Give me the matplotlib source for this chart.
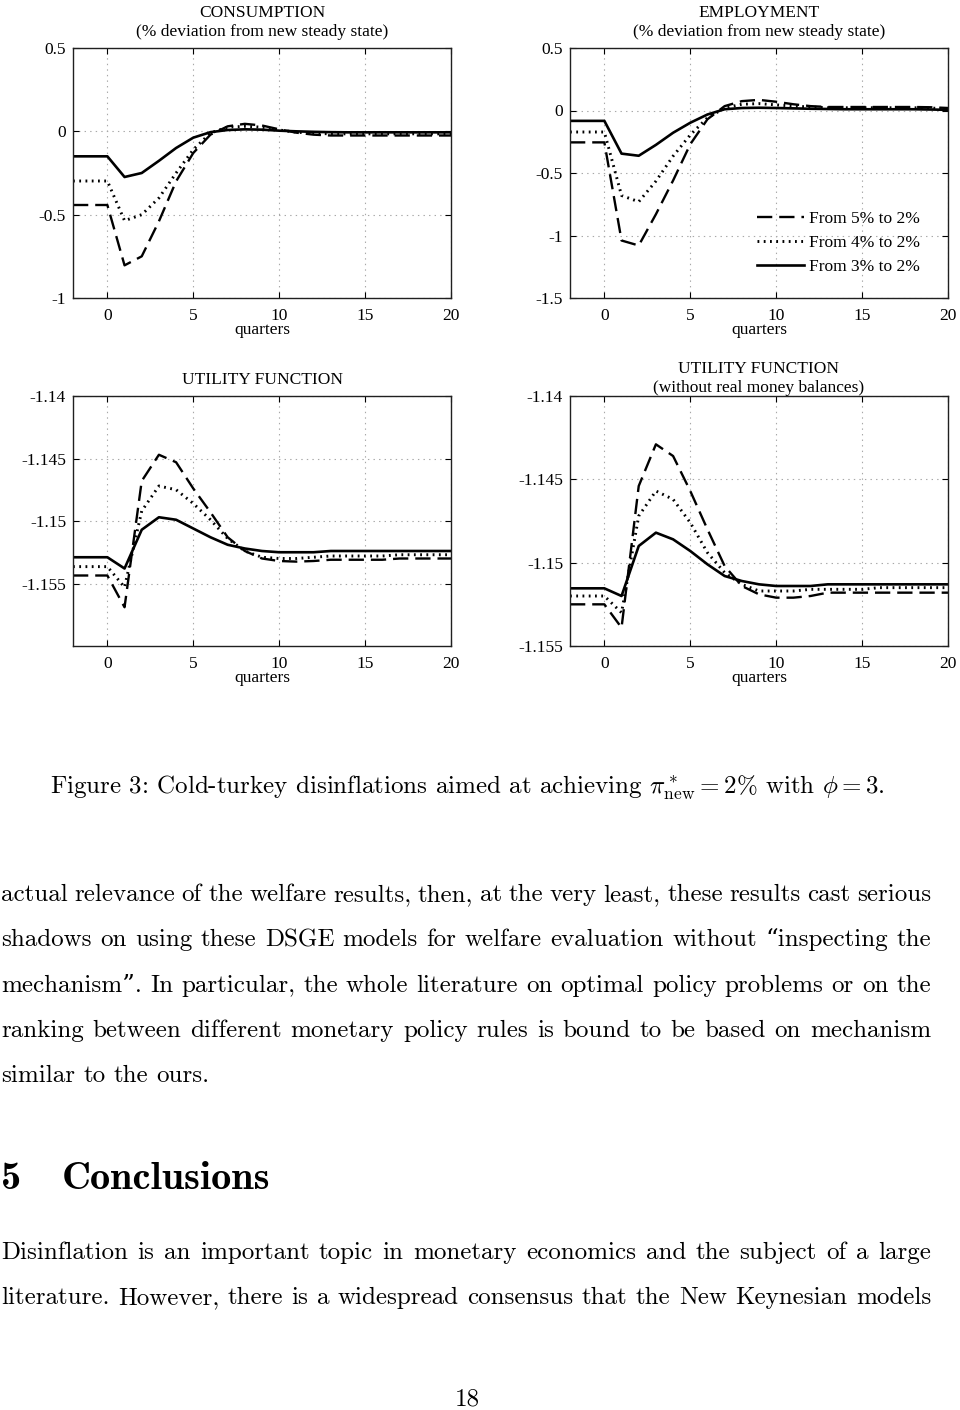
import matplotlib
matplotlib.use("Agg")
import matplotlib.pyplot as plt

# quarters
quarters = list(range(-2, 21))

# series labels
labels = ["From 5% to 2%", "From 4% to 2%", "From 3% to 2%"]

# consumption (% deviation)
cons_5 = [-0.442, -0.442, -0.442, -0.804, -0.750, -0.540, -0.300, -0.130, -0.020, 0.030, 0.045, 0.035,
          0.012, -0.008, -0.020, -0.025, -0.025, -0.025, -0.025, -0.025, -0.025, -0.025, -0.025]
cons_4 = [-0.298, -0.298, -0.298, -0.536, -0.500, -0.400, -0.250, -0.110, -0.010, 0.025, 0.030, 0.025,
          0.008, -0.005, -0.012, -0.015, -0.015, -0.015, -0.015, -0.015, -0.015, -0.015, -0.015]
cons_3 = [-0.150, -0.150, -0.150, -0.274, -0.250, -0.177, -0.100, -0.038, -0.005, 0.008, 0.012, 0.010,
          0.004, 0.000, -0.003, -0.005, -0.006, -0.006, -0.006, -0.006, -0.006, -0.006, -0.006]

# employment (% deviation)
empl_5 = [-0.255, -0.255, -0.255, -1.040, -1.080, -0.830, -0.560, -0.270, -0.070, 0.035, 0.075, 0.085,
          0.070, 0.050, 0.035, 0.028, 0.028, 0.028, 0.028, 0.028, 0.028, 0.026, 0.020]
empl_4 = [-0.172, -0.172, -0.172, -0.680, -0.730, -0.565, -0.365, -0.195, -0.058, 0.020, 0.050, 0.055,
          0.045, 0.035, 0.028, 0.022, 0.022, 0.022, 0.022, 0.022, 0.022, 0.020, 0.012]
empl_3 = [-0.083, -0.083, -0.083, -0.345, -0.362, -0.275, -0.178, -0.098, -0.032, 0.010, 0.020, 0.022,
          0.020, 0.017, 0.014, 0.012, 0.010, 0.010, 0.010, 0.010, 0.010, 0.008, 0.005]

# utility function
util_5 = [-1.15436, -1.15436, -1.15436, -1.1569, -1.1468, -1.1447, -1.1453, -1.1474, -1.1493, -1.1513,
          -1.1524, -1.1530, -1.1532, -1.15325, -1.1532, -1.1531, -1.1531, -1.1531, -1.1531, -1.1530,
          -1.1530, -1.1530, -1.1530]
util_4 = [-1.15365, -1.15365, -1.15365, -1.1553, -1.1492, -1.1472, -1.1475, -1.1486, -1.1499, -1.1514,
          -1.1524, -1.1529, -1.1530, -1.1530, -1.1529, -1.1528, -1.1528, -1.1528, -1.1528, -1.1527,
          -1.1527, -1.1527, -1.1527]
util_3 = [-1.1529, -1.1529, -1.1529, -1.1538, -1.1507, -1.1497, -1.1499, -1.1506, -1.1513, -1.1519,
          -1.1522, -1.1524, -1.1525, -1.1525, -1.1525, -1.1524, -1.1524, -1.1524, -1.1524, -1.1524,
          -1.1524, -1.1524, -1.1524]

# utility function without real money balances
unom_5 = [-1.1525, -1.1525, -1.1525, -1.1539, -1.1454, -1.1429, -1.1436, -1.1457, -1.1480, -1.1502,
          -1.1514, -1.1519, -1.1521, -1.1521, -1.1520, -1.1518, -1.1518, -1.1518, -1.1518, -1.1518,
          -1.1518, -1.1518, -1.1518]
unom_4 = [-1.1520, -1.1520, -1.1520, -1.1530, -1.1472, -1.1457, -1.1462, -1.1476, -1.1494, -1.1506,
          -1.1513, -1.1517, -1.1517, -1.1517, -1.1516, -1.1516, -1.1516, -1.1516, -1.1515, -1.1515,
          -1.1515, -1.1515, -1.1515]
unom_3 = [-1.15154, -1.15154, -1.15154, -1.1520, -1.1490, -1.1482, -1.1486, -1.1493, -1.1501, -1.1508,
          -1.1511, -1.1513, -1.1514, -1.1514, -1.1514, -1.1513, -1.1513, -1.1513, -1.1513, -1.1513,
          -1.1513, -1.1513, -1.1513]

plt.rcParams["font.family"] = ["Liberation Serif", "DejaVu Serif"]
plt.rcParams["mathtext.fontset"] = "cm"
plt.rcParams["lines.scale_dashes"] = False

W, H = 960, 1410
fig = plt.figure(figsize=(W / 100, H / 100), dpi=100)


def add_panel(left, top, series, ylim, yticks, yticklabels, title, title_pad):
    ax = fig.add_axes([left / W, 1 - (top + 250) / H, 378 / W, 250 / H])
    styles = [dict(dashes=(11, 5), lw=1.7), dict(dashes=(1.3, 3.2), lw=2.1), dict(ls="-", lw=1.9)]
    for ys, st, lab in zip(series, styles, labels):
        ax.plot(quarters, ys, color="black", label=lab, **st)
    ax.set_xlim(-2, 20)
    ax.set_ylim(*ylim)
    ax.set_xticks([0, 5, 10, 15, 20])
    ax.set_yticks(yticks)
    ax.set_yticklabels(yticklabels)
    ax.grid(True, color="#a8a8a8", lw=0.8, dashes=(1, 3))
    ax.tick_params(direction="in", length=4, labelsize=12.5, top=True, right=True, pad=7)
    ax.tick_params(axis="y", pad=5)
    for s in ax.spines.values():
        s.set_linewidth(1.0)
        s.set_color("#202020")
    ax.set_xlabel("quarters", fontsize=12.5, labelpad=-1)
    ax.set_title(title, fontsize=12.5, linespacing=1.2, pad=title_pad)
    return ax


ax1 = add_panel(73, 48, [cons_5, cons_4, cons_3], (-1, 0.5), [-1, -0.5, 0, 0.5],
                ["-1", "-0.5", "0", "0.5"], "CONSUMPTION\n(% deviation from new steady state)", 9)
ax2 = add_panel(570, 48, [empl_5, empl_4, empl_3], (-1.5, 0.5), [-1.5, -1, -0.5, 0, 0.5],
                ["-1.5", "-1", "-0.5", "0", "0.5"], "EMPLOYMENT\n(% deviation from new steady state)", 9)
ax3 = add_panel(73, 396, [util_5, util_4, util_3], (-1.16, -1.14), [-1.155, -1.15, -1.145, -1.14],
                ["-1.155", "-1.15", "-1.145", "-1.14"], "UTILITY FUNCTION", 9)
ax4 = add_panel(570, 396, [unom_5, unom_4, unom_3], (-1.155, -1.14), [-1.155, -1.15, -1.145, -1.14],
                ["-1.155", "-1.15", "-1.145", "-1.14"], "UTILITY FUNCTION\n(without real money balances)", 3)

ax2.legend(loc="upper left", bbox_to_anchor=(757 / W, 1 - 211 / H), bbox_transform=fig.transFigure,
           frameon=False, fontsize=12.5, handlelength=2.7, handletextpad=0.3, labelspacing=0.45,
           borderpad=0, borderaxespad=0)

# page text below the figure
body_font = ["cmr10", "DejaVu Serif"]
bold_font = ["cmb10", "DejaVu Serif"]
fig.text(50 / W, 1 - 794 / H,
         r"Figure 3: Cold-turkey disinflations aimed at achieving $\pi^*_{\rm new} = 2\%$ with $\phi = 3$.",
         family=body_font, fontsize=18, va="baseline")

renderer = fig.canvas.get_renderer()


def justified(line, y, x0=1, x1=931, size=18, full=True):
    words = line.split()
    texts = [fig.text(0, 1 - y / H, w, family=body_font, fontsize=size, va="baseline") for w in words]
    widths = [t.get_window_extent(renderer).width for t in texts]
    if full and len(words) > 1:
        gap = (x1 - x0 - sum(widths)) / (len(words) - 1)
    else:
        gap = size * 100 / 72 * 0.33
    x = x0
    for t, w in zip(texts, widths):
        t.set_x(x / W)
        x += w + gap


body = [
    "actual relevance of the welfare results, then, at the very least, these results cast serious",
    "shadows on using these DSGE models for welfare evaluation without \u201cinspecting the",
    "mechanism\u201d. In particular, the whole literature on optimal policy problems or on the",
    "ranking between different monetary policy rules is bound to be based on mechanism",
]
for i, line in enumerate(body):
    justified(line, 901 + i * 45.3)
justified("similar to the ours.", 901 + 4 * 45.3, full=False)

fig.text(1 / W, 1 - 1189 / H, "5", family=bold_font, fontsize=29, va="baseline")
fig.text(62 / W, 1 - 1189 / H, "Conclusions", family=bold_font, fontsize=29, va="baseline")

justified("Disinflation is an important topic in monetary economics and the subject of a large", 1259)
justified("literature. However, there is a widespread consensus that the New Keynesian models", 1304)

fig.text(467 / W, 1 - 1406 / H, "18", family=body_font, fontsize=18, va="baseline", ha="center")

fig.savefig("out.png", dpi=100)
